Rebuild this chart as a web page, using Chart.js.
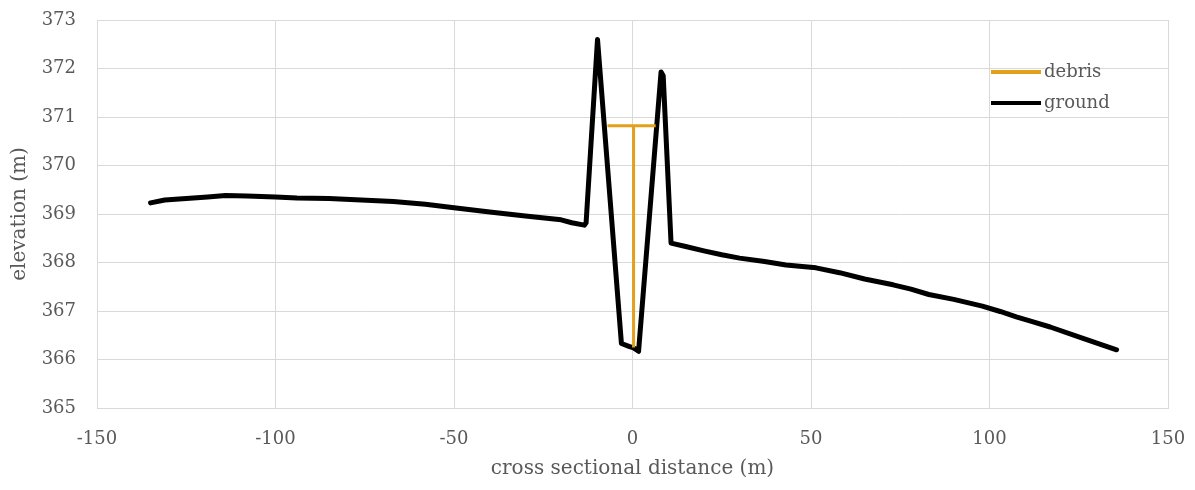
<!DOCTYPE html>
<html>
<head>
<meta charset="utf-8">
<script src="https://cdn.jsdelivr.net/npm/chart.js@4"></script>
<style>
  html, body { margin: 0; padding: 0; background: #fff; }
  #wrap { width: 1195px; height: 490px; position: relative; }
</style>
</head>
<body>
<div id="wrap"><canvas id="profileChart"></canvas></div>
<script>
// ground profile (x in m, elevation in m)
const groundX = [-135, -131, -127, -123, -119, -114, -108, -100, -94, -85, -76, -67, -58, -50, -40, -30, -20, -17, -13.5, -13.0,
    -9.8, -3.1, -1.0, 0.3, 1.7, 8.0, 8.6, 10.8, 14.9, 20, 25, 30, 37, 43, 51.4, 58, 65, 73, 78, 83, 90, 98, 103, 107.5, 112, 117, 126, 135.6];
const groundY = [369.23, 369.29, 369.31, 369.33, 369.35, 369.38, 369.37, 369.35, 369.33, 369.32, 369.29, 369.26, 369.2, 369.13, 369.04, 368.96, 368.88, 368.82, 368.77, 368.82,
    372.6, 366.33, 366.27, 366.24, 366.17, 371.93, 371.85, 368.4, 368.33, 368.24, 368.16, 368.09, 368.02, 367.95, 367.89, 367.79, 367.66, 367.54, 367.45, 367.34, 367.24, 367.1, 366.99, 366.88, 366.78, 366.67, 366.44, 366.2];

// debris marker: top bar and drop to channel bottom
const debrisX = [-7, 0.3, 0.3, 0.3, 6.5];
const debrisY = [370.82, 370.82, 366.25, 370.82, 370.82];

const xTicks = [-150, -100, -50, 0, 50, 100, 150];
const yTicks = [365, 366, 367, 368, 369, 370, 371, 372, 373];

const toPoints = (xs, ys) => xs.map((x, i) => ({ x: x, y: ys[i] }));

const textColor = '#595959';
const gridColor = '#d9d9d9';
const serif = "'DejaVu Serif', 'Liberation Serif', serif";

// legend drawn inside the plot, top right
const insideLegend = {
    id: 'insideLegend',
    afterDraw(chart) {
        const ctx = chart.ctx;
        ctx.save();
        ctx.font = '18px ' + serif;
        ctx.textBaseline = 'middle';
        chart.data.datasets.forEach((ds, i) => {
            const y = 72 + i * 31;
            ctx.strokeStyle = ds.borderColor;
            ctx.lineWidth = 4;
            ctx.beginPath();
            ctx.moveTo(991, y);
            ctx.lineTo(1041, y);
            ctx.stroke();
            ctx.fillStyle = textColor;
            ctx.fillText(ds.label, 1044, y);
        });
        ctx.restore();
    }
};

const profileChart = new Chart(document.getElementById('profileChart'), {
    type: 'line',
    data: {
        datasets: [{
            label: 'debris',
            data: toPoints(debrisX, debrisY),
            borderColor: '#E3A01B',
            borderWidth: 3,
            pointRadius: 0,
            tension: 0
        }, {
            label: 'ground',
            data: toPoints(groundX, groundY),
            borderColor: '#000000',
            borderWidth: 5,
            pointRadius: 0,
            tension: 0,
            borderJoinStyle: 'round',
            borderCapStyle: 'round'
        }]
    },
    options: {
        responsive: true,
        maintainAspectRatio: false,
        animation: false,
        layout: { padding: { top: 20, right: 27, left: 8, bottom: 5 } },
        plugins: {
            legend: { display: false },
            tooltip: { enabled: false }
        },
        scales: {
            x: {
                type: 'linear',
                min: -150,
                max: 150,
                afterBuildTicks: s => { s.ticks = xTicks.map(v => ({ value: v })); },
                ticks: { color: textColor, font: { family: serif, size: 18 }, padding: 21, maxRotation: 0 },
                grid: { color: gridColor, lineWidth: 1, drawTicks: false },
                border: { color: gridColor },
                title: { display: true, text: 'cross sectional distance (m)', color: textColor, font: { family: serif, size: 20 }, padding: { top: 4 } },
                afterFit: s => { s.height = 77; s.paddingLeft = 0; s.paddingRight = 0; }
            },
            y: {
                min: 365,
                max: 373,
                afterBuildTicks: s => { s.ticks = yTicks.map(v => ({ value: v })); },
                ticks: { color: textColor, font: { family: serif, size: 18 }, padding: 21 },
                grid: { color: gridColor, lineWidth: 1, drawTicks: false },
                border: { color: gridColor },
                title: { display: true, text: 'elevation (m)', color: textColor, font: { family: serif, size: 20 }, padding: 0 },
                afterFit: s => { s.width = 89; s.paddingTop = 0; s.paddingBottom = 0; }
            }
        }
    },
    plugins: [insideLegend]
});
</script>
</body>
</html>
